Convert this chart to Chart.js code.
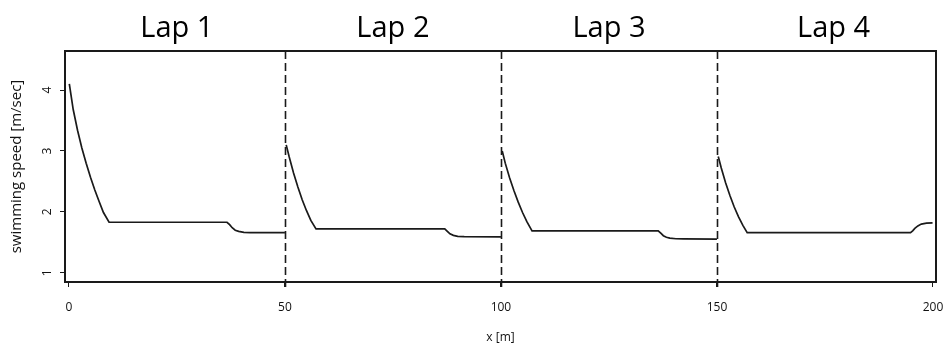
<!DOCTYPE html>
<html><head><meta charset="utf-8">
<script src="https://cdn.jsdelivr.net/npm/chart.js@4.4.1/dist/chart.umd.min.js"></script>
<style>html,body{margin:0;padding:0;background:#fff}#wrap{width:946px;height:350px}</style>
</head><body><div id="wrap"><canvas id="c" width="946" height="350"></canvas></div>
<script>
const lapLabels = ['Lap 1', 'Lap 2', 'Lap 3', 'Lap 4'];
const lapLabelX = [25, 75, 125, 177];
const lapBoundaries = [50, 100, 150];
const xTicks = [0, 50, 100, 150, 200];
const yTicks = [1, 2, 3, 4];

const lap1X = [0.1, 1, 2, 3, 4, 5, 6, 7, 8, 9.3, 36.6, 37.2, 37.8, 38.5, 39.3, 40.5, 42, 50];
const lap1Y = [4.10, 3.68, 3.34, 3.05, 2.80, 2.57, 2.36, 2.17, 1.99, 1.83, 1.83, 1.79, 1.74, 1.70, 1.68, 1.665, 1.66, 1.66];
const lap2X = [50.3, 51, 52, 53, 54, 55, 56, 57.2, 87.0, 87.6, 88.2, 89, 90, 91.5, 100];
const lap2Y = [3.10, 2.90, 2.64, 2.41, 2.20, 2.02, 1.86, 1.72, 1.72, 1.68, 1.64, 1.615, 1.60, 1.595, 1.59];
const lap3X = [100.3, 101, 102, 103, 104, 105, 106, 107.2, 136.4, 137, 137.6, 138.3, 139.1, 140.5, 142.2, 150];
const lap3Y = [3.00, 2.80, 2.56, 2.35, 2.16, 1.99, 1.84, 1.69, 1.69, 1.65, 1.61, 1.585, 1.57, 1.56, 1.557, 1.555];
const lap4X = [150.3, 151, 152, 153, 154, 155, 156, 157, 194.8, 195.3, 195.8, 196.5, 197.3, 198.5, 199.9];
const lap4Y = [2.91, 2.72, 2.48, 2.27, 2.08, 1.92, 1.78, 1.66, 1.66, 1.69, 1.73, 1.77, 1.80, 1.815, 1.82];

const FONT = "'Open Sans', 'DejaVu Sans', sans-serif";
const INK = '#1a1a1a';

function ds(xs, ys) {
  return {
    data: xs.map((x, i) => ({ x: x, y: ys[i] })),
    borderColor: INK, borderWidth: 1.7, pointRadius: 0, tension: 0, fill: false
  };
}

const decor = {
  id: 'decor',
  afterDatasetsDraw(chart) {
    const { ctx, chartArea: a, scales: { x } } = chart;
    ctx.save();
    ctx.strokeStyle = INK;
    ctx.lineWidth = 1.6;
    ctx.setLineDash([8, 4]);
    lapBoundaries.forEach(v => {
      const px = Math.round(x.getPixelForValue(v)) + 0.5;
      ctx.beginPath();
      ctx.moveTo(px, a.top);
      ctx.lineTo(px, a.bottom + 5);
      ctx.stroke();
    });
    ctx.setLineDash([]);
    ctx.lineWidth = 2;
    ctx.strokeRect(a.left, a.top, a.right - a.left, a.bottom - a.top);
    ctx.fillStyle = '#000';
    ctx.font = '29px ' + FONT;
    ctx.textAlign = 'center';
    ctx.textBaseline = 'alphabetic';
    lapLabels.forEach((t, i) => {
      ctx.fillText(t, x.getPixelForValue(lapLabelX[i]), 37);
    });
    ctx.restore();
  }
};

new Chart(document.getElementById('c'), {
  type: 'line',
  data: { datasets: [ds(lap1X, lap1Y), ds(lap2X, lap2Y), ds(lap3X, lap3Y), ds(lap4X, lap4Y)] },
  options: {
    responsive: false, animation: false, devicePixelRatio: 1,
    layout: { padding: { top: 51, right: 10, left: 0, bottom: 0 } },
    plugins: { legend: { display: false }, tooltip: { enabled: false } },
    scales: {
      x: {
        type: 'linear', min: -0.9, max: 200.7,
        afterBuildTicks: s => { s.ticks = xTicks.map(v => ({ value: v })); },
        grid: { drawOnChartArea: false, drawTicks: true, tickLength: 5, color: INK, lineWidth: 1 },
        border: { display: false },
        ticks: { font: { family: FONT, size: 12 }, color: '#111', padding: 13, maxRotation: 0, autoSkip: false },
        title: { display: true, text: 'x [m]', font: { family: FONT, size: 12 }, color: '#111', padding: { top: 0, bottom: 5 } },
        afterFit: s => { s.height = 68; s.paddingLeft = 0; s.paddingRight = 0; }
      },
      y: {
        type: 'linear', min: 0.85, max: 4.64,
        afterBuildTicks: s => { s.ticks = yTicks.map(v => ({ value: v })); },
        grid: { drawOnChartArea: false, drawTicks: true, tickLength: 5, color: INK, lineWidth: 1 },
        border: { display: false },
        ticks: { font: { family: FONT, size: 12 }, color: '#111', padding: 9, minRotation: 90, maxRotation: 90, crossAlign: 'center', autoSkip: false },
        title: { display: true, text: 'swimming speed [m/sec]', font: { family: FONT, size: 15 }, color: '#111', padding: { top: 8, bottom: 0 } },
        afterFit: s => { s.width = 65; s.paddingTop = 0; s.paddingBottom = 0; }
      }
    }
  },
  plugins: [decor]
});
</script>
</body></html>
